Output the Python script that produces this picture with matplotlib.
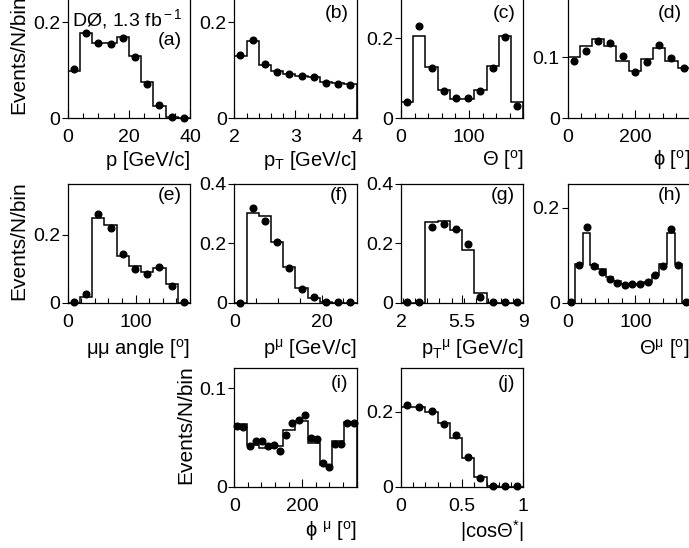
import numpy as np
import matplotlib.pyplot as plt
from matplotlib.ticker import FixedLocator, MultipleLocator, NullLocator

OUTPUT_PATH = "out.png"
FIG_W, FIG_H = 689, 548

# (a) p [GeV/c]
P_RANGE = (0, 40)
P_SIM = [0.099, 0.177, 0.158, 0.158, 0.169, 0.129, 0.075, 0.026, 0.0035, 0.0]
P_DATA = [0.102, 0.177, 0.157, 0.155, 0.167, 0.128, 0.071, 0.027, 0.0035, 0.001]

# (b) pT [GeV/c]
PT_RANGE = (2, 4)
PT_SIM = [0.130, 0.161, 0.112, 0.098, 0.093, 0.089, 0.086, 0.075, 0.074, 0.072]
PT_DATA = [0.133, 0.164, 0.114, 0.096, 0.093, 0.089, 0.086, 0.074, 0.072, 0.070]

# (c) Theta [deg]
THETA_RANGE = (0, 180)
THETA_SIM = [0.040, 0.207, 0.129, 0.072, 0.048, 0.048, 0.072, 0.131, 0.207, 0.040]
THETA_DATA = [0.040, 0.232, 0.127, 0.069, 0.050, 0.050, 0.068, 0.127, 0.204, 0.031]

# (d) phi [deg]
PHI_RANGE = (0, 360)
PHI_SIM = [0.101, 0.1175, 0.1295, 0.1175, 0.093, 0.078, 0.097, 0.115, 0.093, 0.083]
PHI_DATA = [0.093, 0.110, 0.126, 0.123, 0.102, 0.0765, 0.092, 0.120, 0.098, 0.0825]

# (e) mu-mu opening angle [deg]
MUMU_RANGE = (0, 180)
MUMU_SIM = [0.0, 0.0155, 0.250, 0.229, 0.139, 0.107, 0.090, 0.103, 0.054, 0.0]
MUMU_DATA = [0.002, 0.027, 0.262, 0.219, 0.144, 0.099, 0.0835, 0.105, 0.0495, 0.002]

# (f) p mu [GeV/c]
PMU_RANGE = (0, 28)
PMU_SIM = [0.0, 0.303, 0.291, 0.206, 0.120, 0.050, 0.0144, 0.002, 0.0, 0.0]
PMU_DATA = [0.0, 0.318, 0.276, 0.203, 0.118, 0.047, 0.020, 0.002, 0.001, 0.001]

# (g) pT mu [GeV/c]
PTMU_RANGE = (2, 9)
PTMU_SIM = [0.0, 0.0, 0.271, 0.276, 0.244, 0.176, 0.033, 0.0, 0.0, 0.0]
PTMU_DATA = [0.001, 0.001, 0.254, 0.265, 0.248, 0.198, 0.020, 0.001, 0.001, 0.001]

# (h) Theta mu [deg]
THETAMU_RANGE = (0, 180)
THETAMU_SIM = [0.0, 0.082, 0.147, 0.080, 0.070, 0.055, 0.045, 0.039,
               0.038, 0.040, 0.044, 0.058, 0.082, 0.147, 0.082, 0.0]
THETAMU_DATA = [0.001, 0.080, 0.160, 0.078, 0.065, 0.049, 0.041, 0.038,
                0.039, 0.040, 0.043, 0.058, 0.077, 0.155, 0.079, 0.001]

# (i) phi mu [deg]
PHIMU_RANGE = (0, 360)
PHIMU_SIM = [0.064, 0.042, 0.0397, 0.041, 0.057, 0.0667, 0.0444, 0.022, 0.0465, 0.066]
PHIMU_DATA = [0.062, 0.061, 0.041, 0.046, 0.046, 0.041, 0.042, 0.036, 0.052, 0.0646,
              0.068, 0.073, 0.0495, 0.0485, 0.0236, 0.020, 0.043, 0.043, 0.0646, 0.065]

# (j) |cos Theta*|
COS_RANGE = (0, 1)
COS_SIM = [0.213, 0.2116, 0.200, 0.169, 0.129, 0.077, 0.025, 0.002, 0.0, 0.0]
COS_DATA = [0.218, 0.213, 0.202, 0.167, 0.137, 0.080, 0.022, 0.002, 0.001, 0.001]

# pixel layout of the frames (left edges, rows as top/bottom)
COLUMN_LEFTS = [67.7, 234.3, 401.0, 567.5]
AXES_WIDTH = 122.3
ROW_BOUNDS = [(-1.5, 118.3), (184.0, 302.7), (368.3, 486.7)]
XLABEL_DROP = [42, 46, 44]
LETTER_DROP = [15, 11, 15]

PANELS = [
    # letter, row, col, range, sim, data, ylim, yticks, xticks, xticklabels, minor step, xlabel
    ("a", 0, 0, P_RANGE, P_SIM, P_DATA, 0.25, [0, 0.2], [0, 20, 40], ["0", "20", "40"], 5,
     "p [GeV/c]"),
    ("b", 0, 1, PT_RANGE, PT_SIM, PT_DATA, 0.25, [0, 0.2], [2, 3, 4], ["2", "3", "4"], 0.2,
     "p$_{\\rm T}$ [GeV/c]"),
    ("c", 0, 2, THETA_RANGE, THETA_SIM, THETA_DATA, 0.30, [0, 0.2], [0, 100], ["0", "100"], 20,
     "Θ [$^{\\rm o}$]"),
    ("d", 0, 3, PHI_RANGE, PHI_SIM, PHI_DATA, 0.196, [0, 0.1], [0, 200], ["0", "200"], 40,
     "ϕ [$^{\\rm o}$]"),
    ("e", 1, 0, MUMU_RANGE, MUMU_SIM, MUMU_DATA, 0.35, [0, 0.2], [0, 100], ["0", "100"], 20,
     "μμ angle [$^{\\rm o}$]"),
    ("f", 1, 1, PMU_RANGE, PMU_SIM, PMU_DATA, 0.40, [0, 0.2, 0.4], [0, 20], ["0", "20"], 5,
     "p$^{\\rm μ}$ [GeV/c]"),
    ("g", 1, 2, PTMU_RANGE, PTMU_SIM, PTMU_DATA, 0.40, [0, 0.2, 0.4], [2, 5.5, 9], ["2", "5.5", "9"], 0.7,
     "p$_{\\rm T}$$^{\\rm μ}$ [GeV/c]"),
    ("h", 1, 3, THETAMU_RANGE, THETAMU_SIM, THETAMU_DATA, 0.25, [0, 0.2], [0, 100], ["0", "100"], 20,
     "Θ$^{\\rm μ}$ [$^{\\rm o}$]"),
    ("i", 2, 1, PHIMU_RANGE, PHIMU_SIM, PHIMU_DATA, 0.12, [0, 0.1], [0, 200], ["0", "200"], 40,
     "ϕ $^{\\rm μ}$ [$^{\\rm o}$]"),
    ("j", 2, 2, COS_RANGE, COS_SIM, COS_DATA, 0.315, [0, 0.2], [0, 0.5, 1], ["0", "0.5", "1"], 0.1,
     "|cosΘ$^{*}$|"),
]

YLABEL_PANELS = {"a", "e", "i"}


def format_y(value: float) -> str:
    return "0" if value == 0 else f"{value:g}"


def draw_panel(fig, letter, row, col, x_range, sim, data, ymax, yticks, xticks, xticklabels,
               minor_step, xlabel):
    top_px, bottom_px = ROW_BOUNDS[row]
    left_px = COLUMN_LEFTS[col]
    height_px = bottom_px - top_px
    ax = fig.add_axes([left_px / FIG_W, 1 - bottom_px / FIG_H, AXES_WIDTH / FIG_W, height_px / FIG_H])

    lo, hi = x_range
    sim_edges = np.linspace(lo, hi, len(sim) + 1)
    data_edges = np.linspace(lo, hi, len(data) + 1)
    data_centers = 0.5 * (data_edges[:-1] + data_edges[1:])

    ax.stairs(sim, sim_edges, baseline=0, color="black", linewidth=1.1)
    ax.plot(data_centers, data, "o", color="black", markersize=4.8, clip_on=False, zorder=3)

    ax.set_xlim(lo, hi)
    ax.set_ylim(0, ymax)
    ax.xaxis.set_major_locator(FixedLocator(xticks))
    ax.set_xticklabels(xticklabels)
    ax.xaxis.set_minor_locator(MultipleLocator(minor_step))
    ax.yaxis.set_major_locator(FixedLocator(yticks))
    ax.set_yticklabels([format_y(v) for v in yticks])
    ax.yaxis.set_minor_locator(NullLocator())

    ax.tick_params(axis="x", which="both", direction="in", top=False, labelsize=14, pad=8, width=0.8)
    ax.tick_params(axis="x", which="major", length=5.5)
    ax.tick_params(axis="x", which="minor", length=3.5)
    ax.tick_params(axis="y", which="major", direction="out", length=4.5, width=0.8,
                   labelsize=14, pad=1)
    for spine in ax.spines.values():
        spine.set_linewidth(0.9)

    ax.text(1.0, -XLABEL_DROP[row] / height_px, xlabel, transform=ax.transAxes,
            ha="right", va="center", fontsize=14.5)
    letter_drop = 42 if letter == "a" else LETTER_DROP[row]
    ax.text(1.0 - 8 / AXES_WIDTH, 1.0 - letter_drop / height_px, f"({letter})",
            transform=ax.transAxes, ha="right", va="center", fontsize=14)

    if letter in YLABEL_PANELS:
        ax.text(-49 / AXES_WIDTH, 1.0 + 3 / height_px, "Events/N/bin", transform=ax.transAxes,
                rotation=90, ha="center", va="top", fontsize=15)
    if letter == "a":
        ax.text(4 / AXES_WIDTH, 1.0 - 21 / height_px, "DØ, 1.3 fb$^{\\rm -1}$",
                transform=ax.transAxes, ha="left", va="center", fontsize=14)
    return ax


def plot_figure() -> None:
    plt.rcParams["font.family"] = ["Liberation Sans", "DejaVu Sans"]
    plt.rcParams["mathtext.fontset"] = "custom"
    plt.rcParams["mathtext.rm"] = "Liberation Sans"
    plt.rcParams["mathtext.it"] = "Liberation Sans:italic"
    plt.rcParams["mathtext.bf"] = "Liberation Sans:bold"

    fig = plt.figure(figsize=(FIG_W / 100, FIG_H / 100), dpi=100)
    for panel in PANELS:
        draw_panel(fig, *panel)

    fig.savefig(OUTPUT_PATH, dpi=100)


if __name__ == "__main__":
    plot_figure()
